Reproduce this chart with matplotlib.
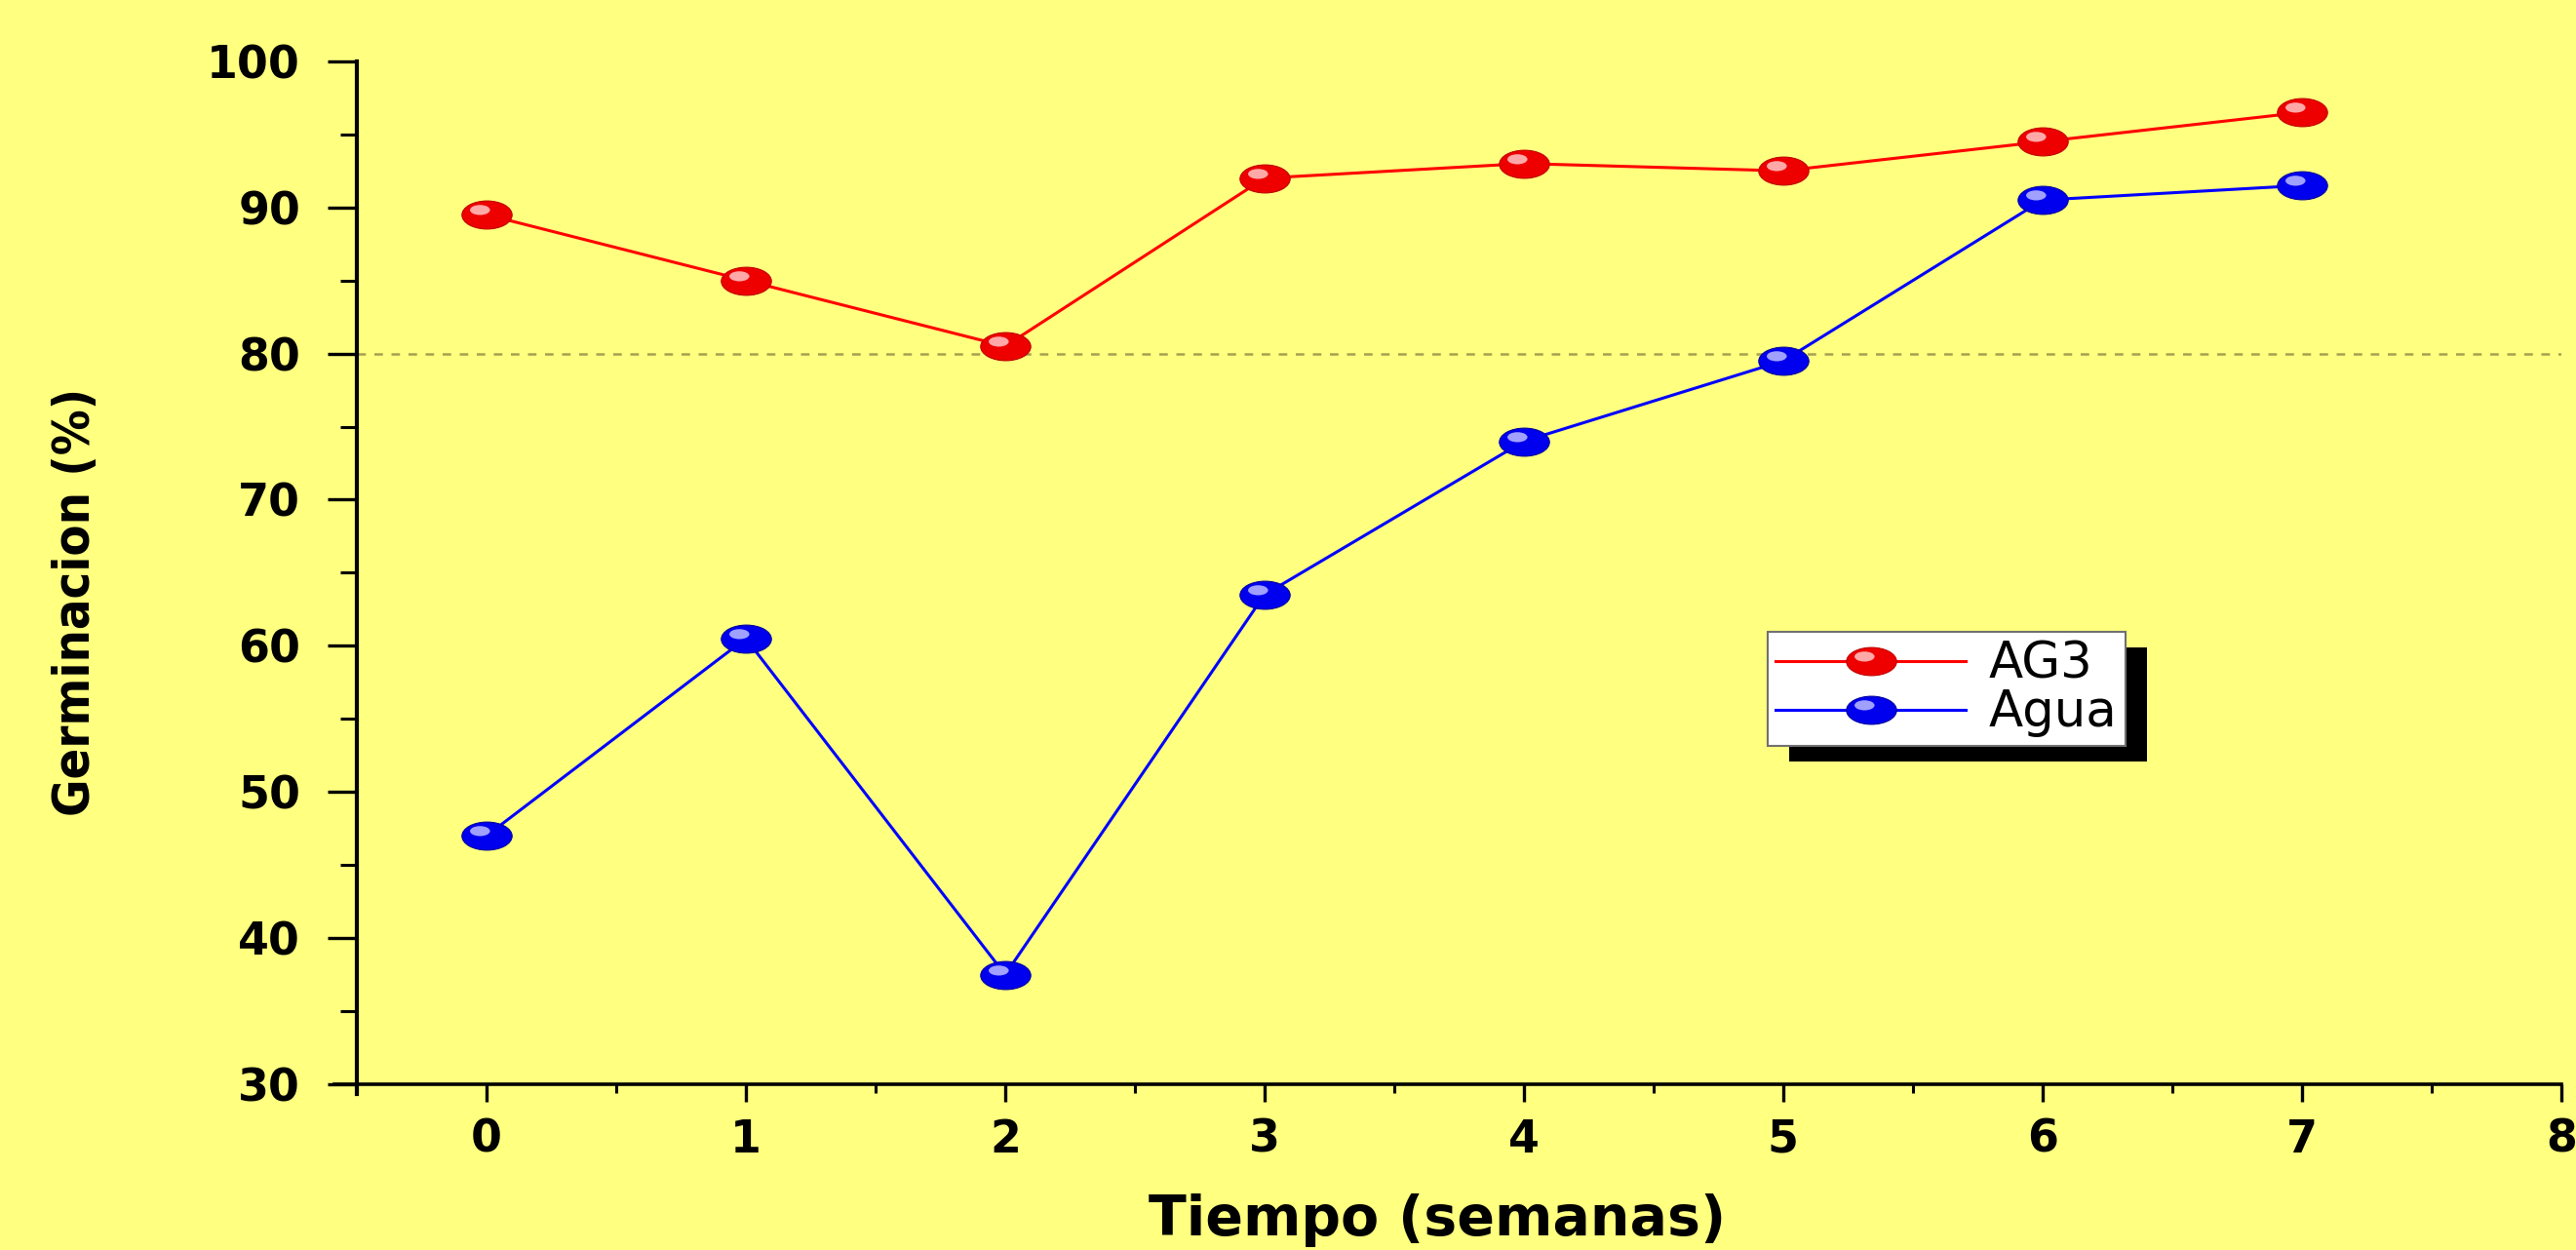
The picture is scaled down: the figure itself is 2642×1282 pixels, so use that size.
import numpy as np
import matplotlib
matplotlib.use("Agg")
import matplotlib.pyplot as plt
from matplotlib.path import Path
from matplotlib.transforms import Affine2D, IdentityTransform
from matplotlib.patches import Rectangle
from matplotlib.ticker import MultipleLocator

# datos
semanas = [0, 1, 2, 3, 4, 5, 6, 7]
ag3 = [89.5, 85.0, 80.5, 92.0, 93.0, 92.5, 94.5, 96.5]
agua = [47.0, 60.5, 37.5, 63.5, 74.0, 79.5, 90.5, 91.5]
referencia = 80
etiquetas = ["AG3", "Agua"]

FONDO = "#FFFF80"

# marcador eliptico (la imagen original esta estirada en horizontal)
circ = Path.unit_circle()
elipse = circ.transformed(Affine2D().scale(1.0, 0.56))
brillo = circ.transformed(Affine2D().scale(0.40, 0.20).translate(-0.28, 0.2))
brillo = Path(np.vstack([[[1.0, 0.0]], brillo.vertices]),
              np.concatenate([[Path.MOVETO], brillo.codes]))

fig = plt.figure(figsize=(26.42, 12.82), dpi=100, facecolor=FONDO)
ax = fig.add_axes([0.1385, 0.1326, 0.8558, 0.8184])
ax.set_facecolor(FONDO)

ax.axhline(referencia, color="#a8a050", lw=1.8, ls=(0, (3.5, 3.5)), zorder=1)

l1, = ax.plot(semanas, ag3, color="#ff0000", lw=2.2, marker=elipse, ms=37,
              mfc="#ee0000", mec="#c00000", mew=0.8, zorder=3)
h1, = ax.plot(semanas, ag3, ls="none", marker=brillo, ms=37,
              mfc="#ffa8a8", mew=0, zorder=4)
l2, = ax.plot(semanas, agua, color="#0000ff", lw=2.2, marker=elipse, ms=37,
              mfc="#0000ee", mec="#0000a0", mew=0.8, zorder=3)
h2, = ax.plot(semanas, agua, ls="none", marker=brillo, ms=37,
              mfc="#a0a0ff", mew=0, zorder=4)

ax.set_xlim(-0.5, 8)
ax.set_ylim(30, 100)

for s in ["top", "right"]:
    ax.spines[s].set_visible(False)
ax.spines["left"].set_linewidth(3.0)
ax.spines["bottom"].set_linewidth(2.6)
ax.spines["bottom"].set_bounds(-0.586, 8)
ax.spines["left"].set_bounds(29.3, 100)

ax.xaxis.set_major_locator(MultipleLocator(1))
ax.xaxis.set_minor_locator(MultipleLocator(0.5))
ax.yaxis.set_major_locator(MultipleLocator(10))
ax.yaxis.set_minor_locator(MultipleLocator(5))

ax.tick_params(axis="y", which="major", direction="out", length=21.6, width=2.4, pad=20)
ax.tick_params(axis="y", which="minor", direction="out", length=12, width=2.2)
ax.tick_params(axis="x", which="major", direction="out", length=13, width=2.4, pad=12)
ax.tick_params(axis="x", which="minor", direction="out", length=6.5, width=2.2)

for lab in ax.get_xticklabels() + ax.get_yticklabels():
    lab.set_fontfamily("DejaVu Sans")
    lab.set_fontweight("heavy")
    lab.set_fontsize(33)

ax.set_xlabel("Tiempo (semanas)", fontsize=41, fontweight="heavy", family="DejaVu Sans")
ax.xaxis.set_label_coords(0.49, -0.107)
ax.set_ylabel("Germinacion (%)", fontsize=37.5, fontweight="bold",
              family="DejaVu Sans", fontstretch="condensed")
ax.yaxis.set_label_coords(-0.1165, 0.471)

leg = ax.legend([(l1, h1), (l2, h2)], etiquetas, loc="upper left",
                bbox_to_anchor=(0.640, 0.442), borderaxespad=0, fancybox=False,
                framealpha=1, facecolor="white", edgecolor="#707070",
                fontsize=37, handlelength=3.8, handletextpad=0.45,
                labelspacing=0.0, borderpad=0.16)
leg.get_frame().set_linewidth(1.5)
leg.set_zorder(6)

# sombra negra del recuadro de la leyenda
fig.canvas.draw()
bb = leg.get_window_extent()
ax.add_patch(Rectangle((bb.x0 + 22, bb.y0 - 16), bb.width, bb.height,
                       transform=IdentityTransform(), facecolor="black",
                       edgecolor="none", zorder=5.5))

fig.savefig("out.png", dpi=100, facecolor=FONDO)
